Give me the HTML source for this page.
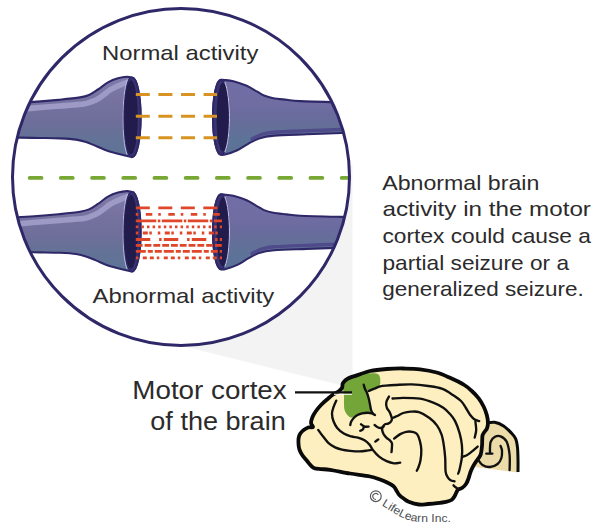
<!DOCTYPE html>
<html><head><meta charset="utf-8"><style>
html,body{margin:0;padding:0;background:#fff;}
svg{display:block;}
text{font-family:"Liberation Sans",sans-serif;}
</style></head><body>
<svg width="600" height="532" viewBox="0 0 600 532">
<defs>
<linearGradient id="gL0" gradientUnits="userSpaceOnUse" x1="0" y1="77.0" x2="0" y2="157.0"><stop offset="0" stop-color="#7f7cad"/><stop offset="0.3" stop-color="#75729f"/><stop offset="0.55" stop-color="#6f6e9a"/><stop offset="0.75" stop-color="#647297"/><stop offset="1" stop-color="#5c7496"/></linearGradient><linearGradient id="gR0" gradientUnits="userSpaceOnUse" x1="0" y1="80.0" x2="0" y2="155.0"><stop offset="0" stop-color="#716ea6"/><stop offset="0.3" stop-color="#706da3"/><stop offset="0.45" stop-color="#6b6b9e"/><stop offset="0.6" stop-color="#656e99"/><stop offset="0.8" stop-color="#5d7397"/><stop offset="1" stop-color="#5a7296"/></linearGradient><linearGradient id="gL114" gradientUnits="userSpaceOnUse" x1="0" y1="191.4" x2="0" y2="271.4"><stop offset="0" stop-color="#7f7cad"/><stop offset="0.3" stop-color="#75729f"/><stop offset="0.55" stop-color="#6f6e9a"/><stop offset="0.75" stop-color="#647297"/><stop offset="1" stop-color="#5c7496"/></linearGradient><linearGradient id="gR114" gradientUnits="userSpaceOnUse" x1="0" y1="194.6" x2="0" y2="269.6"><stop offset="0" stop-color="#716ea6"/><stop offset="0.3" stop-color="#706da3"/><stop offset="0.45" stop-color="#6b6b9e"/><stop offset="0.6" stop-color="#656e99"/><stop offset="0.8" stop-color="#5d7397"/><stop offset="1" stop-color="#5a7296"/></linearGradient>
<clipPath id="cc"><circle cx="181" cy="177" r="168.5"/></clipPath>
</defs>
<rect width="600" height="532" fill="#fff"/>
<path d="M352.5 165 L352.5 388.1 L150 337.9 L181 177 Z" fill="#f3f3f4"/>
<circle cx="181" cy="177" r="168.5" fill="#fff"/>
<g clip-path="url(#cc)">
<path d="M-20 104.6 C-11.5 104.2 17.4 102.9 30.7 102.1 C44.0 101.3 51.8 100.5 60.0 99.7 C68.2 98.9 75.2 98.2 80.0 97.4 C84.8 96.6 86.0 96.3 89.0 95.0 C92.0 93.7 94.8 91.6 98.0 89.5 C101.2 87.4 104.7 84.2 108.0 82.3 C111.3 80.4 114.8 79.1 118.0 78.2 C121.2 77.3 124.7 76.8 127.0 76.7 C129.3 76.6 131.2 77.4 132.0 77.5 A8.6 39.8 0 0 1 132 157.1 C130.2 156.7 125.0 155.6 121.0 154.6 C117.0 153.6 112.2 152.4 108.0 151.0 C103.8 149.6 99.7 147.5 96.0 146.0 C92.3 144.5 89.3 143.1 86.0 142.0 C82.7 140.9 80.3 140.2 76.0 139.6 C71.7 139.0 66.0 138.7 60.0 138.4 C54.0 138.1 46.7 138.1 40.0 138.0 C33.3 137.9 30.0 137.7 20.0 137.6 C10.0 137.5 -13.3 137.3 -20.0 137.2 Z" fill="url(#gL0)" stroke="#2f2868" stroke-width="2.1" stroke-linejoin="round"/>
<path d="M18.0 109.6 C20.5 109.3 26.0 108.7 33.0 108.1 C40.0 107.5 53.3 106.5 60.0 106.0 C66.7 105.5 68.8 105.4 73.0 105.0 C77.2 104.6 81.8 104.4 85.0 103.8 C88.2 103.2 89.8 102.3 92.0 101.5 C94.2 100.7 96.0 100.0 98.0 98.8 C100.0 97.6 102.0 96.0 104.0 94.5 C106.0 93.0 108.0 91.3 110.0 90.0 C112.0 88.7 114.0 87.8 116.0 86.8 C118.0 85.8 120.2 85.0 122.0 84.3 C123.8 83.6 126.2 82.8 127.0 82.5" fill="none" stroke="#9d9bc6" stroke-width="5.6" stroke-linecap="round"/>
<ellipse cx="132" cy="117.3" rx="8.6" ry="39.8" fill="#3a3473" stroke="#2f2868" stroke-width="2"/>
<ellipse cx="131" cy="117.3" rx="6.8" ry="37" fill="#221c4c"/>
<path d="M127.5 79.5 C121.5 95 121.5 140 127 154.5" fill="none" stroke="#c9c7ea" stroke-width="0.9"/>
<path d="M370 102.8 C365.2 102.7 352.7 102.6 341.0 102.3 C329.3 102.0 309.1 101.5 300.0 101.1 C290.9 100.7 291.1 100.3 286.7 99.8 C282.2 99.3 277.1 98.9 273.3 98.2 C269.5 97.5 266.7 96.6 264.0 95.5 C261.3 94.4 260.2 93.3 257.3 91.7 C254.4 90.1 250.7 87.5 246.7 85.7 C242.7 84.0 237.0 82.2 233.3 81.2 C229.6 80.2 226.6 80.2 224.5 80.0 C222.4 79.8 221.6 79.8 221.0 79.7 A8 37.5 0 0 0 221 154.7 C221.7 154.7 222.3 155.3 225.0 154.6 C227.7 153.9 233.4 152.1 237.3 150.3 C241.2 148.5 244.6 145.8 248.2 143.8 C251.8 141.8 254.7 139.8 259.0 138.4 C263.3 137.0 266.2 136.3 274.2 135.6 C282.1 134.9 295.5 134.7 306.7 134.3 C317.9 133.9 330.8 133.3 341.3 133.0 C351.9 132.7 365.2 132.6 370.0 132.5 Z" fill="url(#gR0)" stroke="#2f2868" stroke-width="2.1" stroke-linejoin="round"/>
<path d="M370.0 128.9 C365.2 129.0 351.6 129.2 341.0 129.5 C330.4 129.8 317.8 130.4 306.7 130.8 C295.6 131.2 281.6 131.6 274.2 132.2 C266.8 132.8 265.7 133.2 262.0 134.3 C258.3 135.4 253.7 138.2 252.0 139.0" fill="none" stroke="#4f4b8b" stroke-width="3.4" stroke-linecap="round"/>
<ellipse cx="221" cy="117.2" rx="8" ry="37.5" fill="#3a3473" stroke="#2f2868" stroke-width="2"/>
<ellipse cx="222.8" cy="117.2" rx="6.2" ry="34.5" fill="#221c4c"/>
<path d="M224.8 82 C231 97 231 138 224.8 152" fill="none" stroke="#c9c7ea" stroke-width="1"/>
<path d="M-20 219.0 C-11.5 218.6 17.4 217.3 30.7 216.5 C44.0 215.7 51.8 214.9 60.0 214.1 C68.2 213.3 75.2 212.6 80.0 211.8 C84.8 211.0 86.0 210.7 89.0 209.4 C92.0 208.1 94.8 206.0 98.0 203.9 C101.2 201.8 104.7 198.6 108.0 196.7 C111.3 194.8 114.8 193.5 118.0 192.6 C121.2 191.7 124.7 191.2 127.0 191.1 C129.3 191.0 131.2 191.8 132.0 191.9 A8.6 39.8 0 0 1 132 271.5 C130.2 271.1 125.0 270.0 121.0 269.0 C117.0 268.0 112.2 266.8 108.0 265.4 C103.8 264.0 99.7 261.9 96.0 260.4 C92.3 258.9 89.3 257.5 86.0 256.4 C82.7 255.3 80.3 254.6 76.0 254.0 C71.7 253.4 66.0 253.1 60.0 252.8 C54.0 252.5 46.7 252.5 40.0 252.4 C33.3 252.3 30.0 252.1 20.0 252.0 C10.0 251.9 -13.3 251.7 -20.0 251.6 Z" fill="url(#gL114)" stroke="#2f2868" stroke-width="2.1" stroke-linejoin="round"/>
<path d="M18.0 224.0 C20.5 223.8 26.0 223.1 33.0 222.5 C40.0 221.9 53.3 220.9 60.0 220.4 C66.7 219.9 68.8 219.8 73.0 219.4 C77.2 219.0 81.8 218.8 85.0 218.2 C88.2 217.6 89.8 216.7 92.0 215.9 C94.2 215.1 96.0 214.4 98.0 213.2 C100.0 212.0 102.0 210.4 104.0 208.9 C106.0 207.4 108.0 205.7 110.0 204.4 C112.0 203.1 114.0 202.1 116.0 201.2 C118.0 200.2 120.2 199.4 122.0 198.7 C123.8 198.0 126.2 197.2 127.0 196.9" fill="none" stroke="#9d9bc6" stroke-width="5.6" stroke-linecap="round"/>
<ellipse cx="132" cy="231.7" rx="8.6" ry="39.8" fill="#3a3473" stroke="#2f2868" stroke-width="2"/>
<ellipse cx="131" cy="231.7" rx="6.8" ry="37" fill="#221c4c"/>
<path d="M127.5 193.9 C121.5 209.4 121.5 254.4 127 268.9" fill="none" stroke="#c9c7ea" stroke-width="0.9"/>
<path d="M370 217.4 C365.2 217.3 352.7 217.2 341.0 216.9 C329.3 216.6 309.1 216.1 300.0 215.7 C290.9 215.3 291.1 214.9 286.7 214.4 C282.2 213.9 277.1 213.5 273.3 212.8 C269.5 212.1 266.7 211.2 264.0 210.1 C261.3 209.0 260.2 207.9 257.3 206.3 C254.4 204.7 250.7 202.1 246.7 200.3 C242.7 198.6 237.0 196.8 233.3 195.8 C229.6 194.9 226.6 194.8 224.5 194.6 C222.4 194.3 221.6 194.4 221.0 194.3 A8 37.5 0 0 0 221 269.3 C221.7 269.3 222.3 269.9 225.0 269.2 C227.7 268.5 233.4 266.7 237.3 264.9 C241.2 263.1 244.6 260.4 248.2 258.4 C251.8 256.4 254.7 254.4 259.0 253.0 C263.3 251.6 266.2 250.9 274.2 250.2 C282.1 249.5 295.5 249.3 306.7 248.9 C317.9 248.5 330.8 247.9 341.3 247.6 C351.9 247.3 365.2 247.2 370.0 247.1 Z" fill="url(#gR114)" stroke="#2f2868" stroke-width="2.1" stroke-linejoin="round"/>
<path d="M370.0 243.5 C365.2 243.6 351.6 243.8 341.0 244.1 C330.4 244.4 317.8 245.0 306.7 245.4 C295.6 245.8 281.6 246.2 274.2 246.8 C266.8 247.4 265.7 247.8 262.0 248.9 C258.3 250.0 253.7 252.8 252.0 253.6" fill="none" stroke="#4f4b8b" stroke-width="3.4" stroke-linecap="round"/>
<ellipse cx="221" cy="231.8" rx="8" ry="37.5" fill="#3a3473" stroke="#2f2868" stroke-width="2"/>
<ellipse cx="222.8" cy="231.8" rx="6.2" ry="34.5" fill="#221c4c"/>
<path d="M224.8 196.6 C231 211.6 231 252.6 224.8 266.6" fill="none" stroke="#c9c7ea" stroke-width="1"/>

</g>
<line x1="135.8" y1="94.5" x2="217" y2="94.5" stroke="#d99322" stroke-width="2.9" stroke-dasharray="14 8.6" stroke-dashoffset="0"/>
<line x1="135.8" y1="116.2" x2="217" y2="116.2" stroke="#d99322" stroke-width="2.9" stroke-dasharray="14 8.6" stroke-dashoffset="0"/>
<line x1="135.8" y1="137.7" x2="217" y2="137.7" stroke="#d99322" stroke-width="2.9" stroke-dasharray="14 8.6" stroke-dashoffset="0"/>
<line x1="135.8" y1="207.8" x2="222" y2="207.8" stroke="#e0472a" stroke-width="2.8" stroke-dasharray="14 8.5" stroke-dashoffset="0"/>
<line x1="135.8" y1="214.3" x2="222" y2="214.3" stroke="#e0472a" stroke-width="2.8" stroke-dasharray="2.5 7.5 6.5 6" stroke-dashoffset="0"/>
<line x1="135.8" y1="220.8" x2="222" y2="220.8" stroke="#e0472a" stroke-width="2.8" stroke-dasharray="20.5 1.5 2.5 1.5" stroke-dashoffset="0"/>
<line x1="135.8" y1="226.8" x2="222" y2="226.8" stroke="#e0472a" stroke-width="2.8" stroke-dasharray="2.5 3.1" stroke-dashoffset="0"/>
<line x1="135.8" y1="233.0" x2="222" y2="233.0" stroke="#e0472a" stroke-width="2.8" stroke-dasharray="2.5 4.5 5 1.5 2.5 6" stroke-dashoffset="0"/>
<line x1="135.8" y1="239.5" x2="222" y2="239.5" stroke="#e0472a" stroke-width="2.8" stroke-dasharray="14.5 8.8 2.5 2.2" stroke-dashoffset="0"/>
<line x1="135.8" y1="245.3" x2="222" y2="245.3" stroke="#e0472a" stroke-width="2.8" stroke-dasharray="6.8 2" stroke-dashoffset="0"/>
<line x1="135.8" y1="251.4" x2="222" y2="251.4" stroke="#e0472a" stroke-width="2.8" stroke-dasharray="10 2 5 2 7 2" stroke-dashoffset="0"/>
<line x1="135.8" y1="257.8" x2="222" y2="257.8" stroke="#e0472a" stroke-width="2.8" stroke-dasharray="2.5 4.5 4 3 4 3" stroke-dashoffset="0"/>

<g clip-path="url(#cc)"><line x1="29.6" y1="177.9" x2="350" y2="177.9" stroke="#78a834" stroke-width="3.7" stroke-linecap="round" stroke-dasharray="12 19.2"/>
</g>
<circle cx="181" cy="177" r="168.5" fill="none" stroke="#2f2868" stroke-width="3"/>
<g fill="#2c2b2c" font-size="21">
<text x="102" y="60.3" textLength="156.4" lengthAdjust="spacingAndGlyphs">Normal activity</text>
<text x="92.5" y="303.3" textLength="181.7" lengthAdjust="spacingAndGlyphs">Abnormal activity</text>
<text x="382.3" y="189.7" textLength="157" lengthAdjust="spacingAndGlyphs">Abnormal brain</text>
<text x="382.5" y="216.2" textLength="208.4" lengthAdjust="spacingAndGlyphs">activity in the motor</text>
<text x="382.5" y="242.9" textLength="208.4" lengthAdjust="spacingAndGlyphs">cortex could cause a</text>
<text x="382.5" y="269.6" textLength="186.5" lengthAdjust="spacingAndGlyphs">partial seizure or a</text>
<text x="382.3" y="295.8" textLength="201.5" lengthAdjust="spacingAndGlyphs">generalized seizure.</text>
</g>
<g fill="#2c2b2c" font-size="25">
<text x="132.3" y="399" textLength="154.4" lengthAdjust="spacingAndGlyphs">Motor cortex</text>
<text x="150.3" y="430.2" textLength="135.4" lengthAdjust="spacingAndGlyphs">of the brain</text>
</g>
<path d="M470 425 L487 423 C491 422.5 497 422 503.6 426 C508 428.5 513 433 515.6 438.6 C517 442 517.8 446 518 459.6 L518 472.6 L471 466.5 Z" fill="#ecdcaa" stroke="none"/>
<clipPath id="bc"><path d="M343.0 383.0 C344.0 381.4 345.8 379.7 348.0 378.5 C350.2 377.3 352.3 376.9 356.0 375.6 C359.7 374.4 364.9 372.1 370.0 371.0 C375.1 369.9 381.1 369.4 386.7 369.0 C392.2 368.6 397.8 368.4 403.3 368.5 C408.9 368.6 414.4 368.6 420.0 369.3 C425.6 370.0 431.7 371.1 436.7 372.5 C441.7 373.9 445.4 375.7 450.0 377.8 C454.6 379.9 460.7 382.8 464.3 385.0 C467.9 387.2 469.4 388.8 471.8 391.0 C474.2 393.2 476.7 395.7 478.7 398.3 C480.7 400.9 482.2 403.7 483.6 406.5 C485.0 409.3 486.1 412.3 486.8 415.0 C487.5 417.7 488.0 420.3 488.0 422.5 C488.0 424.7 487.6 426.7 487.0 428.3 C486.4 429.9 484.9 431.1 484.2 432.3 C483.4 433.5 482.8 434.1 482.5 435.5 C482.2 436.9 482.3 438.8 482.2 440.5 C482.1 442.2 482.3 443.6 482.0 446.0 C481.7 448.4 481.6 452.1 480.6 454.7 C479.6 457.3 477.4 459.3 476.1 461.4 C474.8 463.5 473.6 465.3 472.7 467.1 C471.8 468.9 471.2 470.1 470.5 472.0 C469.8 473.9 469.2 476.5 468.5 478.5 C467.8 480.5 467.1 482.4 466.0 484.0 C464.9 485.6 463.3 487.1 462.0 488.0 C460.7 488.9 458.9 488.9 458.0 489.7 C457.1 490.5 456.9 491.5 456.3 492.6 C455.7 493.7 455.4 495.0 454.6 496.2 C453.8 497.4 452.9 499.1 451.5 500.0 C450.1 500.9 448.4 501.3 446.0 501.8 C443.6 502.3 440.0 502.8 437.0 503.2 C434.0 503.6 431.0 503.8 428.0 504.0 C425.0 504.2 422.2 504.9 419.0 504.5 C415.8 504.1 411.3 502.7 408.7 501.7 C406.1 500.7 404.9 499.4 403.3 498.3 C401.7 497.2 400.4 496.2 399.3 495.0 C398.2 493.8 397.6 492.4 396.7 491.0 C395.8 489.6 395.3 487.8 393.6 486.3 C391.9 484.9 389.0 483.4 386.7 482.3 C384.4 481.2 382.8 480.5 380.0 479.5 C377.2 478.5 375.0 477.5 370.0 476.5 C365.0 475.5 356.7 474.6 350.0 473.5 C343.3 472.4 334.8 470.5 330.0 469.8 C325.2 469.1 323.6 469.4 321.0 469.1 C318.4 468.8 316.1 468.8 314.4 468.2 C312.7 467.6 311.9 466.6 310.7 465.4 C309.4 464.1 308.3 462.4 306.9 460.7 C305.5 459.0 303.4 456.9 302.2 455.0 C300.9 453.1 300.0 451.3 299.4 449.4 C298.8 447.5 298.6 445.7 298.5 443.8 C298.4 441.9 298.3 439.8 298.6 438.1 C298.9 436.4 299.4 434.9 300.3 433.5 C301.2 432.1 302.7 430.7 304.1 429.7 C305.5 428.7 307.3 427.8 308.8 427.3 C310.3 426.9 312.6 427.7 313.0 427.0 C313.4 426.3 311.1 424.7 311.0 423.0 C310.9 421.3 311.7 419.0 312.5 417.0 C313.3 415.0 314.6 413.0 316.0 411.0 C317.4 409.0 319.2 406.9 321.0 405.0 C322.8 403.1 325.0 401.2 327.0 399.5 C329.0 397.8 331.1 395.8 333.0 394.5 C334.9 393.2 337.0 392.6 338.5 391.5 C340.0 390.4 341.2 389.4 342.0 388.0 C342.8 386.6 342.0 384.6 343.0 383.0 Z"/></clipPath>
<path d="M343.0 383.0 C344.0 381.4 345.8 379.7 348.0 378.5 C350.2 377.3 352.3 376.9 356.0 375.6 C359.7 374.4 364.9 372.1 370.0 371.0 C375.1 369.9 381.1 369.4 386.7 369.0 C392.2 368.6 397.8 368.4 403.3 368.5 C408.9 368.6 414.4 368.6 420.0 369.3 C425.6 370.0 431.7 371.1 436.7 372.5 C441.7 373.9 445.4 375.7 450.0 377.8 C454.6 379.9 460.7 382.8 464.3 385.0 C467.9 387.2 469.4 388.8 471.8 391.0 C474.2 393.2 476.7 395.7 478.7 398.3 C480.7 400.9 482.2 403.7 483.6 406.5 C485.0 409.3 486.1 412.3 486.8 415.0 C487.5 417.7 488.0 420.3 488.0 422.5 C488.0 424.7 487.6 426.7 487.0 428.3 C486.4 429.9 484.9 431.1 484.2 432.3 C483.4 433.5 482.8 434.1 482.5 435.5 C482.2 436.9 482.3 438.8 482.2 440.5 C482.1 442.2 482.3 443.6 482.0 446.0 C481.7 448.4 481.6 452.1 480.6 454.7 C479.6 457.3 477.4 459.3 476.1 461.4 C474.8 463.5 473.6 465.3 472.7 467.1 C471.8 468.9 471.2 470.1 470.5 472.0 C469.8 473.9 469.2 476.5 468.5 478.5 C467.8 480.5 467.1 482.4 466.0 484.0 C464.9 485.6 463.3 487.1 462.0 488.0 C460.7 488.9 458.9 488.9 458.0 489.7 C457.1 490.5 456.9 491.5 456.3 492.6 C455.7 493.7 455.4 495.0 454.6 496.2 C453.8 497.4 452.9 499.1 451.5 500.0 C450.1 500.9 448.4 501.3 446.0 501.8 C443.6 502.3 440.0 502.8 437.0 503.2 C434.0 503.6 431.0 503.8 428.0 504.0 C425.0 504.2 422.2 504.9 419.0 504.5 C415.8 504.1 411.3 502.7 408.7 501.7 C406.1 500.7 404.9 499.4 403.3 498.3 C401.7 497.2 400.4 496.2 399.3 495.0 C398.2 493.8 397.6 492.4 396.7 491.0 C395.8 489.6 395.3 487.8 393.6 486.3 C391.9 484.9 389.0 483.4 386.7 482.3 C384.4 481.2 382.8 480.5 380.0 479.5 C377.2 478.5 375.0 477.5 370.0 476.5 C365.0 475.5 356.7 474.6 350.0 473.5 C343.3 472.4 334.8 470.5 330.0 469.8 C325.2 469.1 323.6 469.4 321.0 469.1 C318.4 468.8 316.1 468.8 314.4 468.2 C312.7 467.6 311.9 466.6 310.7 465.4 C309.4 464.1 308.3 462.4 306.9 460.7 C305.5 459.0 303.4 456.9 302.2 455.0 C300.9 453.1 300.0 451.3 299.4 449.4 C298.8 447.5 298.6 445.7 298.5 443.8 C298.4 441.9 298.3 439.8 298.6 438.1 C298.9 436.4 299.4 434.9 300.3 433.5 C301.2 432.1 302.7 430.7 304.1 429.7 C305.5 428.7 307.3 427.8 308.8 427.3 C310.3 426.9 312.6 427.7 313.0 427.0 C313.4 426.3 311.1 424.7 311.0 423.0 C310.9 421.3 311.7 419.0 312.5 417.0 C313.3 415.0 314.6 413.0 316.0 411.0 C317.4 409.0 319.2 406.9 321.0 405.0 C322.8 403.1 325.0 401.2 327.0 399.5 C329.0 397.8 331.1 395.8 333.0 394.5 C334.9 393.2 337.0 392.6 338.5 391.5 C340.0 390.4 341.2 389.4 342.0 388.0 C342.8 386.6 342.0 384.6 343.0 383.0 Z" fill="#fdefbf"/>
<path d="M343.0 388.7 C342.8 386.5 342.0 384.0 343.0 382.0 C344.0 380.0 346.2 377.9 349.0 376.5 C351.8 375.1 356.5 374.0 359.8 373.5 C363.1 373.0 366.0 373.3 368.8 373.3 C371.6 373.3 374.6 373.1 376.4 373.6 C378.2 374.1 379.0 375.0 379.6 376.2 C380.2 377.4 380.3 379.3 380.3 380.8 C380.3 382.3 380.5 384.0 379.5 385.3 C378.5 386.6 376.1 387.8 374.5 388.7 C372.9 389.6 371.1 390.1 370.0 390.9 C368.9 391.6 367.9 391.9 367.7 393.2 C367.5 394.5 368.4 396.9 368.8 398.8 C369.2 400.7 369.6 402.6 370.0 404.5 C370.4 406.4 371.7 409.2 371.5 410.5 C371.3 411.8 370.4 411.4 368.8 412.0 C367.2 412.6 364.4 413.3 362.1 414.0 C359.9 414.7 357.2 415.6 355.3 416.2 C353.4 416.8 352.1 417.7 350.8 417.5 C349.5 417.3 348.4 416.2 347.4 415.0 C346.4 413.8 345.2 412.1 344.6 410.1 C344.0 408.2 344.1 405.8 344.0 403.3 C343.9 400.9 344.2 397.8 344.0 395.4 C343.8 393.0 343.2 390.9 343.0 388.7 Z" fill="#74a539" clip-path="url(#bc)"/>
<path d="M343.0 383.0 C344.0 381.4 345.8 379.7 348.0 378.5 C350.2 377.3 352.3 376.9 356.0 375.6 C359.7 374.4 364.9 372.1 370.0 371.0 C375.1 369.9 381.1 369.4 386.7 369.0 C392.2 368.6 397.8 368.4 403.3 368.5 C408.9 368.6 414.4 368.6 420.0 369.3 C425.6 370.0 431.7 371.1 436.7 372.5 C441.7 373.9 445.4 375.7 450.0 377.8 C454.6 379.9 460.7 382.8 464.3 385.0 C467.9 387.2 469.4 388.8 471.8 391.0 C474.2 393.2 476.7 395.7 478.7 398.3 C480.7 400.9 482.2 403.7 483.6 406.5 C485.0 409.3 486.1 412.3 486.8 415.0 C487.5 417.7 488.0 420.3 488.0 422.5 C488.0 424.7 487.6 426.7 487.0 428.3 C486.4 429.9 484.9 431.1 484.2 432.3 C483.4 433.5 482.8 434.1 482.5 435.5 C482.2 436.9 482.3 438.8 482.2 440.5 C482.1 442.2 482.3 443.6 482.0 446.0 C481.7 448.4 481.6 452.1 480.6 454.7 C479.6 457.3 477.4 459.3 476.1 461.4 C474.8 463.5 473.6 465.3 472.7 467.1 C471.8 468.9 471.2 470.1 470.5 472.0 C469.8 473.9 469.2 476.5 468.5 478.5 C467.8 480.5 467.1 482.4 466.0 484.0 C464.9 485.6 463.3 487.1 462.0 488.0 C460.7 488.9 458.9 488.9 458.0 489.7 C457.1 490.5 456.9 491.5 456.3 492.6 C455.7 493.7 455.4 495.0 454.6 496.2 C453.8 497.4 452.9 499.1 451.5 500.0 C450.1 500.9 448.4 501.3 446.0 501.8 C443.6 502.3 440.0 502.8 437.0 503.2 C434.0 503.6 431.0 503.8 428.0 504.0 C425.0 504.2 422.2 504.9 419.0 504.5 C415.8 504.1 411.3 502.7 408.7 501.7 C406.1 500.7 404.9 499.4 403.3 498.3 C401.7 497.2 400.4 496.2 399.3 495.0 C398.2 493.8 397.6 492.4 396.7 491.0 C395.8 489.6 395.3 487.8 393.6 486.3 C391.9 484.9 389.0 483.4 386.7 482.3 C384.4 481.2 382.8 480.5 380.0 479.5 C377.2 478.5 375.0 477.5 370.0 476.5 C365.0 475.5 356.7 474.6 350.0 473.5 C343.3 472.4 334.8 470.5 330.0 469.8 C325.2 469.1 323.6 469.4 321.0 469.1 C318.4 468.8 316.1 468.8 314.4 468.2 C312.7 467.6 311.9 466.6 310.7 465.4 C309.4 464.1 308.3 462.4 306.9 460.7 C305.5 459.0 303.4 456.9 302.2 455.0 C300.9 453.1 300.0 451.3 299.4 449.4 C298.8 447.5 298.6 445.7 298.5 443.8 C298.4 441.9 298.3 439.8 298.6 438.1 C298.9 436.4 299.4 434.9 300.3 433.5 C301.2 432.1 302.7 430.7 304.1 429.7 C305.5 428.7 307.3 427.8 308.8 427.3 C310.3 426.9 312.6 427.7 313.0 427.0 C313.4 426.3 311.1 424.7 311.0 423.0 C310.9 421.3 311.7 419.0 312.5 417.0 C313.3 415.0 314.6 413.0 316.0 411.0 C317.4 409.0 319.2 406.9 321.0 405.0 C322.8 403.1 325.0 401.2 327.0 399.5 C329.0 397.8 331.1 395.8 333.0 394.5 C334.9 393.2 337.0 392.6 338.5 391.5 C340.0 390.4 341.2 389.4 342.0 388.0 C342.8 386.6 342.0 384.6 343.0 383.0 Z" fill="none" stroke="#0a0a0a" stroke-width="3.8" stroke-linejoin="round"/>
<path d="M363.7 384.7 C363.9 385.4 364.3 387.3 364.9 388.7 C365.5 390.1 366.5 391.5 367.1 393.2 C367.8 394.9 368.3 396.9 368.8 398.8 C369.3 400.7 369.6 402.6 370.0 404.5 C370.4 406.4 370.6 408.6 371.1 410.1 C371.6 411.6 372.2 412.7 372.8 413.5 C373.4 414.3 374.6 414.8 375.0 415.0" fill="none" stroke="#111" stroke-width="2.35" stroke-linecap="round"/>
<path d="M372.8 413.5 C372.0 413.4 369.8 412.7 368.0 412.7 C366.2 412.7 363.8 412.9 362.0 413.3 C360.2 413.7 358.9 414.2 357.5 415.0 C356.1 415.8 354.6 417.1 353.5 418.3 C352.4 419.5 351.5 420.9 351.0 422.0 C350.5 423.1 350.4 424.5 350.3 425.0" fill="none" stroke="#111" stroke-width="2.35" stroke-linecap="round"/>
<path d="M368.8 391.0 C369.8 390.6 372.6 389.5 374.5 388.7 C376.4 387.9 378.2 386.9 380.1 386.4 C382.0 385.9 383.2 385.8 385.7 385.6 C388.2 385.4 390.7 385.2 395.0 385.0 C399.3 384.8 406.1 384.2 411.7 384.4 C417.2 384.6 423.3 385.3 428.3 386.0 C433.3 386.7 437.5 387.1 441.7 388.7 C445.9 390.2 450.1 393.2 453.3 395.3 C456.5 397.4 458.9 399.0 461.0 401.0 C463.1 403.0 464.1 405.2 465.6 407.5 C467.1 409.8 468.7 413.0 470.2 415.0 C471.7 417.0 473.2 418.5 474.7 419.5 C476.2 420.5 478.4 420.8 479.2 421.1" fill="none" stroke="#111" stroke-width="2.35" stroke-linecap="round"/>
<path d="M475.4 421.5 C475.5 422.9 476.3 427.4 476.2 430.1 C476.1 432.8 474.9 436.4 474.7 437.6" fill="none" stroke="#111" stroke-width="2.35" stroke-linecap="round"/>
<path d="M392.5 398.5 C394.3 398.4 398.7 397.8 403.3 397.8 C407.9 397.8 415.0 397.8 420.0 398.6 C425.0 399.4 429.4 401.1 433.3 402.6 C437.2 404.1 440.5 405.9 443.3 407.8 C446.1 409.7 448.0 411.8 450.0 414.0 C452.0 416.2 453.5 417.9 455.1 421.1 C456.7 424.3 458.5 429.1 459.6 433.1 C460.7 437.1 461.5 441.1 461.9 445.1 C462.3 449.1 462.3 453.1 461.9 457.1 C461.5 461.1 460.2 466.4 459.6 469.2 C459.0 472.0 458.4 472.9 458.1 473.7" fill="none" stroke="#111" stroke-width="2.35" stroke-linecap="round"/>
<path d="M461.9 457.1 C463.0 456.6 466.0 455.9 468.6 454.1 C471.2 452.4 476.2 447.9 477.7 446.6" fill="none" stroke="#111" stroke-width="2.35" stroke-linecap="round"/>
<path d="M392.0 418.3 C392.9 417.9 395.2 416.9 397.1 416.0 C399.0 415.1 400.9 413.7 403.2 413.0 C405.5 412.3 408.1 411.8 410.7 411.7 C413.3 411.6 415.9 411.1 419.0 412.2 C422.1 413.2 426.5 415.8 429.5 418.0 C432.5 420.2 435.1 422.8 437.1 425.6 C439.1 428.4 440.5 431.4 441.6 434.6 C442.7 437.9 443.2 441.2 443.8 445.1 C444.4 449.0 444.9 453.6 445.2 458.0 C445.5 462.4 445.2 468.4 445.6 471.6 C446.0 474.8 447.0 475.9 447.8 477.3 C448.6 478.7 449.5 479.5 450.6 480.2 C451.7 480.9 453.9 481.1 454.6 481.3" fill="none" stroke="#111" stroke-width="2.35" stroke-linecap="round"/>
<path d="M453.5 485.3 C453.9 485.7 455.2 486.9 456.0 487.5 C456.8 488.1 457.7 488.9 458.0 489.2" fill="none" stroke="#111" stroke-width="2.35" stroke-linecap="round"/>
<path d="M394.1 438.6 C395.1 437.9 398.2 435.2 400.2 434.1 C402.2 433.0 404.2 432.2 406.2 431.8 C408.2 431.4 410.4 431.4 412.2 431.8 C414.0 432.2 415.7 432.5 417.0 434.0 C418.3 435.5 419.1 438.0 419.8 440.6 C420.5 443.2 421.2 446.3 421.3 449.6 C421.4 452.9 421.0 457.2 420.5 460.2 C420.0 463.2 418.9 465.9 418.3 467.7 C417.7 469.4 417.1 470.2 416.8 470.7" fill="none" stroke="#111" stroke-width="2.35" stroke-linecap="round"/>
<path d="M389.0 396.5 C388.6 397.4 386.7 400.3 386.3 402.2 C385.9 404.1 386.3 406.2 386.9 407.8 C387.4 409.4 388.8 410.2 389.6 412.0 C390.4 413.8 391.6 416.8 391.9 418.3 C392.1 419.9 391.7 420.4 391.1 421.3 C390.5 422.2 389.1 423.1 388.1 423.6 C387.1 424.1 386.0 423.8 385.1 424.3 C384.2 424.8 383.4 425.7 382.9 426.6 C382.4 427.5 382.0 428.4 382.1 429.6 C382.2 430.9 382.9 432.7 383.6 434.1 C384.4 435.5 385.6 436.9 386.6 437.9 C387.6 438.9 388.7 439.2 389.6 440.1 C390.5 441.0 391.5 441.9 391.9 443.1 C392.3 444.4 392.0 446.1 391.9 447.6 C391.8 449.1 391.6 451.4 391.5 452.1" fill="none" stroke="#111" stroke-width="2.35" stroke-linecap="round"/>
<path d="M374.6 425.0 C375.1 425.4 376.5 426.8 377.6 427.3 C378.7 427.8 380.4 428.1 381.4 428.0 C382.4 427.9 383.2 426.8 383.6 426.6" fill="none" stroke="#111" stroke-width="2.35" stroke-linecap="round"/>
<path d="M361.0 424.3 C361.6 424.7 363.5 426.2 364.8 426.6 C366.1 427.0 368.0 426.6 368.6 426.6" fill="none" stroke="#111" stroke-width="2.35" stroke-linecap="round"/>
<path d="M363.8 427.0 C363.6 427.4 363.4 428.9 362.8 429.5 C362.2 430.1 360.6 430.6 360.2 430.8" fill="none" stroke="#111" stroke-width="2.35" stroke-linecap="round"/>
<path d="M375.3 441.6 C375.8 441.2 377.8 439.8 378.3 439.4" fill="none" stroke="#111" stroke-width="2.35" stroke-linecap="round"/>
<path d="M318.2 429.9 C318.9 430.9 321.0 433.9 322.7 436.0 C324.4 438.1 326.2 440.9 328.3 442.8 C330.4 444.7 332.8 446.3 335.1 447.4 C337.4 448.5 339.4 449.0 341.9 449.6 C344.4 450.2 347.1 450.5 350.0 450.8 C352.9 451.1 356.7 451.4 359.5 451.4 C362.3 451.4 365.0 450.9 367.0 450.6 C369.0 450.4 370.8 450.0 371.6 449.9" fill="none" stroke="#111" stroke-width="2.35" stroke-linecap="round"/>
<path d="M336.3 400.6 C335.8 401.7 334.2 405.0 333.5 407.2 C332.8 409.4 332.0 411.4 332.0 413.8 C332.0 416.2 332.6 419.0 333.5 421.3 C334.4 423.6 335.5 425.9 337.2 427.9 C338.9 429.9 341.4 432.1 343.8 433.5 C346.2 434.9 349.0 435.7 351.3 436.4 C353.6 437.1 355.7 437.0 357.9 437.6 C360.1 438.2 362.6 439.1 364.5 440.3 C366.4 441.5 368.0 442.9 369.5 444.6 C371.0 446.3 371.7 448.6 373.3 450.6 C374.9 452.6 376.9 454.9 379.1 456.7 C381.3 458.5 384.1 460.1 386.6 461.2 C389.1 462.3 391.8 463.1 394.1 463.4 C396.4 463.6 399.2 462.8 400.2 462.7" fill="none" stroke="#111" stroke-width="2.35" stroke-linecap="round"/>
<path d="M509.6 470.0 C509.6 467.5 510.1 459.7 509.6 455.0 C509.1 450.3 508.1 444.7 506.6 441.6 C505.1 438.5 502.6 437.1 500.6 436.3 C498.6 435.5 496.2 436.1 494.6 437.0 C493.0 437.9 491.6 439.8 490.8 441.6 C490.0 443.4 490.1 445.7 490.0 447.6 C489.9 449.5 490.0 452.0 490.0 452.9" fill="none" stroke="#111" stroke-width="2.35" stroke-linecap="round"/>
<path d="M486.3 453.6 C487.3 453.6 491.3 453.6 492.3 453.6" fill="none" stroke="#111" stroke-width="2.35" stroke-linecap="round"/>
<path d="M500.6 446.0 C500.8 446.8 501.9 448.6 502.0 450.6 C502.1 452.6 502.1 455.8 501.4 458.0 C500.7 460.2 499.5 462.5 497.6 464.0 C495.7 465.5 492.5 466.8 490.0 467.0 C487.5 467.2 484.5 466.2 482.5 465.0 C480.5 463.8 478.8 460.5 478.0 459.6" fill="none" stroke="#111" stroke-width="2.35" stroke-linecap="round"/>
<path d="M486.0 423.0 C487.4 422.9 491.7 421.8 494.6 422.3 C497.5 422.8 500.9 424.3 503.6 426.0 C506.3 427.7 509.0 430.5 511.0 432.6 C513.0 434.7 514.5 436.1 515.6 438.6 C516.7 441.1 517.1 444.1 517.5 447.6 C517.9 451.1 517.9 455.5 518.0 459.6 C518.1 463.7 518.0 469.9 518.0 472.0" fill="none" stroke="#0a0a0a" stroke-width="3"/>

<line x1="334" y1="394.2" x2="352" y2="394.2" stroke="#fff" stroke-width="1.2"/>
<line x1="295" y1="392.4" x2="352" y2="392.4" stroke="#111" stroke-width="2.4"/>
<path id="cp" d="M381.3 505.3 C396 514 405 521.8 420 521.8 L470 521.8" fill="none"/>
<text font-size="11.4" fill="#4e4e50"><textPath href="#cp" textLength="73.5" lengthAdjust="spacingAndGlyphs">LifeLearn Inc.</textPath></text>
<circle cx="375.8" cy="496.2" r="5.4" fill="none" stroke="#58585a" stroke-width="1.15"/>
<path d="M377.3 493.8 A3 3 0 1 0 377.6 498.9" fill="none" stroke="#58585a" stroke-width="1.1" transform="rotate(30 375.8 496.2)"/>
</svg>
</body></html>
